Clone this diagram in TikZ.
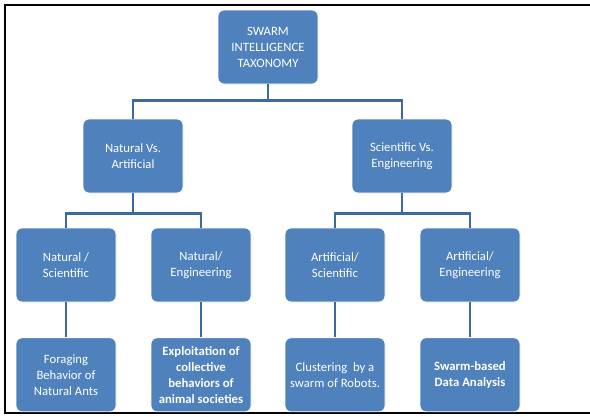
\documentclass[tikz,border=0pt]{standalone}
\usepackage{fontspec}
\setmainfont{Carlito}
\usetikzlibrary{positioning}
\definecolor{boxblue}{HTML}{4F81BD}
\definecolor{linkblue}{HTML}{3C6A9F}

\begin{document}
\begin{tikzpicture}[x=1pt,y=-1pt,
  box/.style={fill=boxblue,draw=white,line width=0.8pt,rounded corners=6pt,
    minimum width=100pt,minimum height=74pt,align=center,text=white,
    font=\fontsize{12.7}{16}\selectfont,inner sep=2pt},
  link/.style={draw=linkblue,line width=2.8pt}]
\useasboundingbox (0,0) rectangle (590,416);
\draw[line width=2pt] (600,5) -- (5,5) -- (5,413) -- (600,413);
% root
\node[box] (root) at (268,47) {SWARM\\INTELLIGENCE\\TAXONOMY};
% second level
\node[box] (nva) at (133,156) {Natural Vs.\\Artificial};
\node[box] (sve) at (402,156) {Scientific Vs.\\Engineering};
% third level
\node[box] (ns) at (66,265) {Natural /\\Scientific};
\node[box] (ne) at (201,265) {Natural/\\Engineering};
\node[box] (as) at (335,265) {Artificial/\\Scientific};
\node[box] (ae) at (470,265) {Artificial/\\Engineering};
% examples
\node[box,below=35pt of ns] (ants) {Foraging\\Behavior of\\Natural Ants};
\node[box,below=35pt of ne,font=\fontsize{12.7}{16}\selectfont\bfseries] (anim)
  {Exploitation of\\collective\\behaviors of\\animal societies};
\node[box,below=35pt of as] (robo) {Clustering~ by a\\swarm of Robots.};
\node[box,below=35pt of ae,font=\fontsize{12.7}{16}\selectfont\bfseries] (data)
  {Swarm-based\\Data Analysis};
% links
\draw[link] (root.south) -- ++(0,16) -| (nva.north);
\draw[link] (root.south) -- ++(0,16) -| (sve.north);
\draw[link] (nva.south) -- ++(0,20) -| (ns.north);
\draw[link] (nva.south) -- ++(0,20) -| (ne.north);
\draw[link] (sve.south) -- ++(0,20) -| (as.north);
\draw[link] (sve.south) -- ++(0,20) -| (ae.north);
\draw[link] (ns) -- (ants);
\draw[link] (ne) -- (anim);
\draw[link] (as) -- (robo);
\draw[link] (ae) -- (data);
\end{tikzpicture}
\end{document}
